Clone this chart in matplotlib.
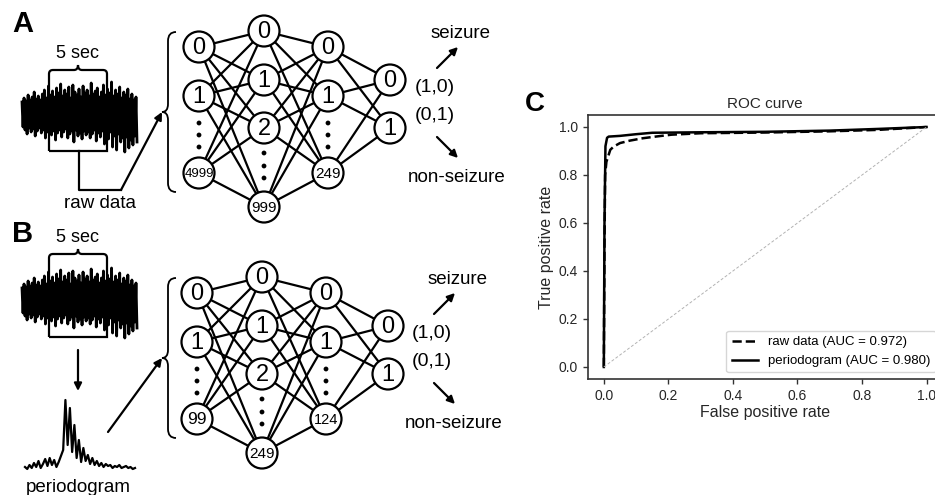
import numpy as np
import matplotlib.pyplot as plt
from matplotlib.patches import Circle, PathPatch
from matplotlib.path import Path

plt.rcParams['font.family'] = ['Liberation Sans', 'DejaVu Sans']

# raw EEG trace, spike heights above / below the centre line
raw_up = [10, 14, 11, 17, 12, 15, 20, 13, 16, 12, 18, 22, 14, 26, 17, 21, 15, 24, 19,
          28, 16, 22, 18, 25, 14, 27, 20, 17, 23, 15, 26, 19, 22, 16, 29, 18, 21, 24,
          15, 20, 27, 17, 23, 19, 30, 16, 22, 18, 25, 14, 20, 17, 23, 13, 18, 12, 15]
raw_down = [15, 18, 22, 16, 20, 17, 24, 19, 16, 21, 18, 26, 20, 17, 23, 19, 28, 21, 18,
            25, 20, 17, 26, 22, 19, 30, 18, 24, 21, 27, 19, 23, 20, 26, 22, 18, 29, 21,
            25, 19, 32, 22, 27, 20, 35, 24, 38, 22, 30, 26, 40, 25, 36, 28, 33, 24, 30]
# periodogram of the trace
pgram = [3, 1, 5, 2, 7, 3, 9, 2, 6, 11, 4, 12, 5, 10, 3, 8, 14, 20, 70, 25, 62, 18, 45,
         12, 30, 8, 22, 9, 15, 6, 12, 5, 9, 4, 7, 3, 6, 4, 5, 2, 4, 3, 5, 2, 3, 4, 2, 3, 1, 2]

# network node labels per layer
layers_a = [['0', '1', '4999'], ['0', '1', '2', '999'], ['0', '1', '249'], ['0', '1']]
layers_b = [['0', '1', '99'], ['0', '1', '2', '249'], ['0', '1', '124'], ['0', '1']]
outputs = ['(1,0)', '(0,1)']
classes = ['seizure', 'non-seizure']

# ROC curves
fpr_raw = [0.0, 0.002, 0.004, 0.008, 0.014, 0.02, 0.03, 0.05, 0.08, 0.12, 0.16, 0.21,
           0.3, 0.5, 0.7, 0.85, 1.0]
tpr_raw = [0.0, 0.5, 0.8, 0.855, 0.88, 0.905, 0.918, 0.933, 0.943, 0.953, 0.96, 0.968,
           0.974, 0.977, 0.982, 0.988, 1.0]
fpr_per = [0.0, 0.002, 0.005, 0.01, 0.015, 0.05, 0.1, 0.15, 0.3, 0.5, 0.7, 0.85, 1.0]
tpr_per = [0.0, 0.6, 0.92, 0.955, 0.96, 0.963, 0.97, 0.976, 0.978, 0.98, 0.985, 0.992, 1.0]
auc_raw = 0.972
auc_per = 0.980

W, H = 935, 495
fig = plt.figure(figsize=(W / 100, H / 100), dpi=100)
ax = fig.add_axes([0, 0, 1, 1])
ax.set_xlim(0, W)
ax.set_ylim(H, 0)
ax.axis('off')

LW = 1.6


def fr(x, y, w, h):
    # pixel box (top-left origin) -> figure fraction
    return [x / W, 1 - (y + h) / H, w / W, h / H]


def vbrace(x, y0, y1, ytip, w=14):
    xm = x + 6
    xr = x + w
    verts = [(xr, y0), (xm, y0), (xm, y0 + 9), (xm, ytip - 8), (xm, ytip), (x, ytip),
             (xm, ytip), (xm, ytip + 8), (xm, y1 - 9), (xm, y1), (xr, y1)]
    codes = [Path.MOVETO, Path.CURVE3, Path.CURVE3, Path.LINETO, Path.CURVE3, Path.CURVE3,
             Path.CURVE3, Path.CURVE3, Path.LINETO, Path.CURVE3, Path.CURVE3]
    ax.add_patch(PathPatch(Path(verts, codes), fc='none', ec='k', lw=1.3))


def window(x0, x1, ytop, ybot):
    # 5 sec window: small brace on top of an open box
    xm = (x0 + x1) / 2
    yb = ytop
    verts = [(x0, ybot), (x0, yb + 4), (x0, yb), (x0 + 4, yb), (xm - 4, yb), (xm, yb),
             (xm, yb - 5), (xm, yb), (xm + 4, yb), (x1 - 4, yb), (x1, yb), (x1, yb + 4),
             (x1, ybot), (x0, ybot)]
    codes = [Path.MOVETO, Path.LINETO, Path.CURVE3, Path.CURVE3, Path.LINETO, Path.CURVE3,
             Path.CURVE3, Path.CURVE3, Path.CURVE3, Path.LINETO, Path.CURVE3, Path.CURVE3,
             Path.LINETO, Path.LINETO]
    ax.add_patch(PathPatch(Path(verts, codes), fc='none', ec='k', lw=LW, zorder=5))
    ax.text(xm, ytop - 17, '5 sec', ha='center', va='center', fontsize=13)


def arrow(x0, y0, x1, y1):
    ax.annotate('', xy=(x1, y1), xytext=(x0, y0),
                arrowprops=dict(arrowstyle='-|>', lw=LW, color='k', mutation_scale=11,
                                shrinkA=0, shrinkB=0))


def trace(box):
    a = fig.add_axes(fr(*box))
    n = len(raw_up)
    xs = np.repeat(np.arange(n), 2) + np.tile([0, 0.5], n)
    ys = np.column_stack([raw_up, -np.array(raw_down)]).ravel()
    a.plot(xs, ys, color='k', lw=2.0, clip_on=False)
    a.set_xlim(0, n - 0.5)
    a.set_ylim(-40, 40)
    a.axis('off')


node_x = [199, 264, 328, 390]
node_y = [[47, 96, 173], [31, 80, 128, 207], [47, 96, 173], [80, 128]]
dot_y = [[123, 135, 147], [153, 166, 178], [123, 135, 147], []]
small = {'4999': 9.5, '999': 11, '249': 11, '99': 12.5, '124': 10.5}


def network(layers, dx, dy, tx):
    for li in range(len(layers) - 1):
        for ya in node_y[li]:
            for yb in node_y[li + 1]:
                ax.plot([node_x[li] + dx, node_x[li + 1] + dx], [ya + dy, yb + dy],
                        color='k', lw=LW, zorder=1)
    for li, labels in enumerate(layers):
        x = node_x[li] + dx
        for lab, y in zip(labels, node_y[li]):
            ax.add_patch(Circle((x, y + dy), 15.5, fc='white', ec='k', lw=LW, zorder=3))
            ax.text(x, y + dy + 1, lab, ha='center', va='center',
                    fontsize=small.get(lab, 17), zorder=4)
        for y in dot_y[li]:
            ax.add_patch(Circle((x, y + dy), 2.4, fc='k', ec='none', zorder=3))
    ax.text(435 + tx, 87 + dy, outputs[0], ha='center', va='center', fontsize=14)
    ax.text(435 + tx, 116 + dy, outputs[1], ha='center', va='center', fontsize=14)
    ax.text(461 + tx, 33 + dy, classes[0], ha='center', va='center', fontsize=13.5)
    ax.text(457 + tx, 177 + dy, classes[1], ha='center', va='center', fontsize=13.5)
    arrow(437 + tx, 68 + dy, 458 + tx, 47 + dy)
    arrow(437 + tx, 137 + dy, 458 + tx, 158 + dy)


# ---- panel A ----
ax.text(23, 24, 'A', ha='center', va='center', fontsize=21, fontweight='bold')
trace((22, 72, 115, 80))
window(49, 107, 70, 151)
ax.plot([79, 79, 121], [151, 190, 190], color='k', lw=LW)
arrow(121, 190, 162, 112)
ax.text(100, 204, 'raw data', ha='center', va='center', fontsize=13.5)
vbrace(162, 32, 192, 112)
network(layers_a, 0, 0, 0)

# ---- panel B ----
ax.text(23, 234, 'B', ha='center', va='center', fontsize=21, fontweight='bold')
trace((22, 258, 115, 80))
window(49, 107, 254, 337)
arrow(78, 350, 78, 391)
pa = fig.add_axes(fr(25, 395, 110, 75))
pa.plot(np.arange(len(pgram)), pgram, color='k', lw=1.6, clip_on=False)
pa.set_xlim(0, len(pgram) - 1)
pa.set_ylim(0, 75)
pa.axis('off')
ax.text(78, 488, 'periodogram', ha='center', va='center', fontsize=13.5)
arrow(108, 432, 162, 358)
vbrace(162, 278, 438, 358)
network(layers_b, -2, 246, -3)

# ---- panel C ----
ax.text(535, 104, 'C', ha='center', va='center', fontsize=20, fontweight='bold')
axc = fig.add_axes(fr(587.7, 115, 355, 264))
axc.plot(fpr_raw, tpr_raw, '--', color='k', lw=1.8,
         label=f'raw data (AUC = {auc_raw:.3f})')
axc.plot(fpr_per, tpr_per, '-', color='k', lw=1.8,
         label=f'periodogram (AUC = {auc_per:.3f})')
axc.plot([0, 1], [0, 1], '--', color='0.7', lw=0.7, dashes=(3, 2))
axc.set_xlim(-0.05, 1.05)
axc.set_ylim(-0.05, 1.05)
axc.set_xticks([0, 0.2, 0.4, 0.6, 0.8, 1.0])
axc.set_yticks([0, 0.2, 0.4, 0.6, 0.8, 1.0])
axc.tick_params(labelsize=10, color='0.2', labelcolor='0.15', width=1.0)
for s in axc.spines.values():
    s.set_color('0.2')
    s.set_linewidth(1.2)
axc.set_title('ROC curve', fontsize=11, color='0.15', pad=5)
axc.set_xlabel('False positive rate', fontsize=11.5, color='0.15', labelpad=2)
axc.set_ylabel('True positive rate', fontsize=11.5, color='0.15', labelpad=3)
axc.legend(loc='lower right', fontsize=9.5)

fig.savefig('out.png', dpi=100)
